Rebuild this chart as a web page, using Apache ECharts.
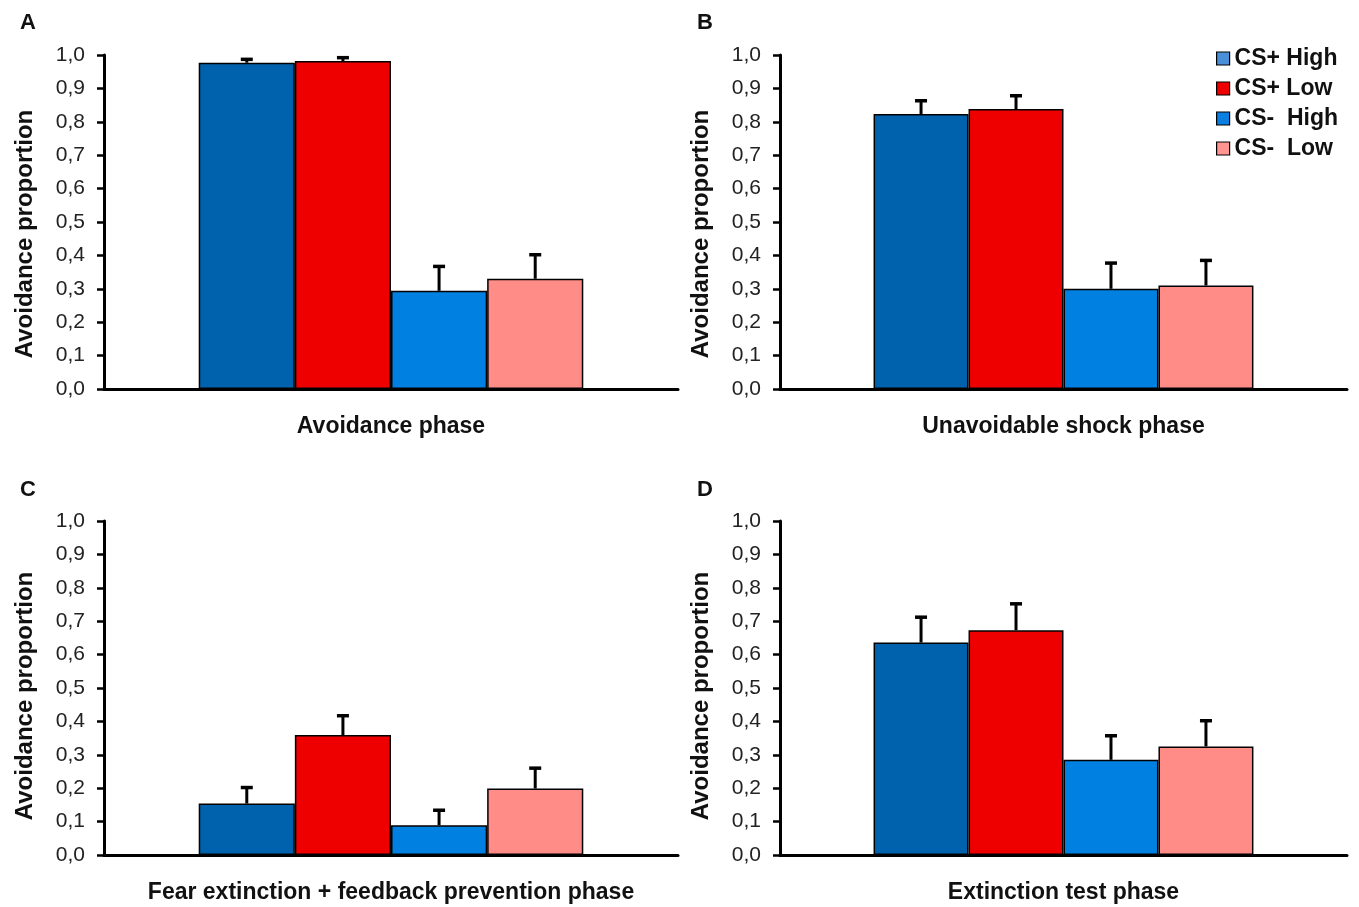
<!DOCTYPE html>
<html>
<head>
<meta charset="utf-8">
<script src="https://cdn.jsdelivr.net/npm/echarts@6/dist/echarts.min.js"></script>
<style>
html,body{margin:0;padding:0;background:#fff;}
#chart{width:1359px;height:907px;}
</style>
</head>
<body>
<div id="chart"></div>
<script>
// ---- data ----
const panelLetters = ['A', 'B', 'C', 'D'];
const phases = ['Avoidance phase', 'Unavoidable shock phase', 'Fear extinction + feedback prevention phase', 'Extinction test phase'];
const seriesNames = ['CS+ High', 'CS+ Low', 'CS-  High', 'CS-  Low'];
// mean avoidance proportion per panel (A, B, C, D)
const csPlusHigh  = [0.977, 0.823, 0.154, 0.636];
const csPlusLow   = [0.982, 0.838, 0.359, 0.673];
const csMinusHigh = [0.294, 0.300, 0.089, 0.285];
const csMinusLow  = [0.330, 0.310, 0.199, 0.325];
// error (upper whisker length) per panel
const csPlusHighErr  = [0.010, 0.040, 0.048, 0.076];
const csPlusLowErr   = [0.010, 0.040, 0.058, 0.079];
const csMinusHighErr = [0.073, 0.077, 0.045, 0.072];
const csMinusLowErr  = [0.072, 0.075, 0.061, 0.077];
const yTicks = ['0,0','0,1','0,2','0,3','0,4','0,5','0,6','0,7','0,8','0,9','1,0'];

const means = [csPlusHigh, csPlusLow, csMinusHigh, csMinusLow];
const errs = [csPlusHighErr, csPlusLowErr, csMinusHighErr, csMinusLowErr];
const barColors = ['#0062AD', '#EE0000', '#0080E0', '#FF8C87'];
const legendColors = ['#4A90D9', '#EE0000', '#0B7FE0', '#FF9490'];

const FONT = '"Liberation Sans", Arial, sans-serif';
const CAT_GAP = 0.33;

const grids = [
  {left: 104, top: 55, width: 574, height: 334},
  {left: 780, top: 55, width: 567, height: 334},
  {left: 104, top: 521, width: 574, height: 334},
  {left: 780, top: 521, width: 567, height: 334}
];

const xAxes = [], yAxes = [], series = [], titles = [];
const letterPos = [[15, 7], [692, 7], [15, 474], [692, 474]];
const nameShift = [24, 24, 16, 16];

for (let p = 0; p < 4; p++) {
  titles.push({
    text: panelLetters[p], left: letterPos[p][0], top: letterPos[p][1],
    textStyle: {fontFamily: FONT, fontWeight: 'bold', fontSize: 22, color: '#111'}
  });
  xAxes.push({
    type: 'category', gridIndex: p, data: [phases[p]],
    axisLine: {lineStyle: {color: '#000', width: 3}},
    axisTick: {show: false},
    axisLabel: {margin: 26, fontFamily: FONT, fontWeight: 'bold', fontSize: 23, color: '#111'}
  });
  yAxes.push({
    type: 'value', gridIndex: p, min: 0, max: 1, interval: 0.1,
    name: 'Avoidance proportion', nameLocation: 'middle', nameGap: 67,
    nameTextStyle: {fontFamily: FONT, fontWeight: 'bold', fontSize: 24, color: '#111', padding: [0, nameShift[p], 0, 0]},
    axisLine: {show: true, lineStyle: {color: '#000', width: 3}},
    axisTick: {show: true, length: 7, lineStyle: {color: '#000', width: 2.5}},
    splitLine: {show: false},
    axisLabel: {
      margin: 19, fontFamily: FONT, fontSize: 21, color: '#222',
      formatter: function (v) { return yTicks[Math.round(v * 10)]; }
    }
  });
  for (let s = 0; s < 4; s++) {
    series.push({
      type: 'bar', name: seriesNames[s], xAxisIndex: p, yAxisIndex: p,
      barGap: '0%', barCategoryGap: (CAT_GAP * 100) + '%',
      itemStyle: {color: barColors[s], borderColor: '#000', borderWidth: 1.5},
      data: [means[s][p]]
    });
  }
  const errData = [];
  for (let s = 0; s < 4; s++) {
    errData.push([0, s, means[s][p], means[s][p] + errs[s][p]]);
  }
  series.push({
    type: 'custom', xAxisIndex: p, yAxisIndex: p, z: 5,
    encode: {x: 0, y: 3},
    data: errData,
    renderItem: function (params, api) {
      const v = api.value(2), top = api.value(3), sIdx = api.value(1);
      const base = api.coord([0, v]);
      const tip = api.coord([0, top]);
      const catW = api.size([1, 0])[0];
      const barW = catW * (1 - CAT_GAP) / 4;
      const x = base[0] + (sIdx - 1.5) * barW;
      const cap = 6;
      return {
        type: 'group',
        children: [
          {type: 'line', shape: {x1: x, y1: base[1], x2: x, y2: tip[1]}, style: {stroke: '#000', lineWidth: 3}},
          {type: 'line', shape: {x1: x - cap, y1: tip[1], x2: x + cap, y2: tip[1]}, style: {stroke: '#000', lineWidth: 3.5}}
        ]
      };
    }
  });
}

const chart = echarts.init(document.getElementById('chart'));
chart.setOption({
  backgroundColor: '#fff',
  animation: false,
  title: titles,
  grid: grids,
  xAxis: xAxes,
  yAxis: yAxes,
  legend: {
    orient: 'vertical', left: 1211, top: 42,
    itemWidth: 13, itemHeight: 13, itemGap: 7,
    icon: 'rect',
    itemStyle: {borderColor: '#000', borderWidth: 1.2},
    textStyle: {fontFamily: FONT, fontWeight: 'bold', fontSize: 23, color: '#111'},
    data: seriesNames.map(function (n, i) { return {name: n, itemStyle: {color: legendColors[i], borderColor: '#000', borderWidth: 1.2}}; })
  },
  series: series
});
</script>
</body>
</html>
